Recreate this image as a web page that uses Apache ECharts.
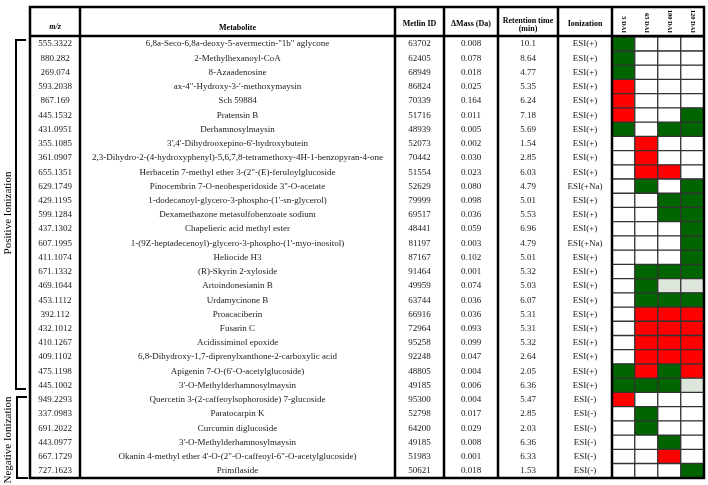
<!DOCTYPE html>
<html>
<head>
<meta charset="utf-8">
<script src="https://cdn.jsdelivr.net/npm/echarts@6/dist/echarts.min.js"></script>
<style>html,body{margin:0;padding:0;background:#fff}#c{width:708px;height:485px}</style>
</head>
<body>
<div id="c"></div>
<script>
const mz = ['555.3322','880.282','269.074','593.2038','867.169','445.1532','431.0951','355.1085','361.0907','655.1351','629.1749','429.1195','599.1284','437.1302','607.1995','411.1074','671.1332','469.1044','453.1112','392.112','432.1012','410.1267','409.1102','475.1198','445.1002','949.2293','337.0983','691.2022','443.0977','667.1729','727.1623'];
const metabolites = ['6,8a-Seco-6,8a-deoxy-5-avermectin-"1b" aglycone','2-Methylhexanoyl-CoA','8-Azaadenosine','ax-4"-Hydroxy-3-\'-methoxymaysin','Sch 59884','Pratensin B','Derhamnosylmaysin',"3',4'-Dihydrooxepino-6'-hydroxybutein",'2,3-Dihydro-2-(4-hydroxyphenyl)-5,6,7,8-tetramethoxy-4H-1-benzopyran-4-one','Herbacetin 7-methyl ether 3-(2"-(E)-feruloylglucoside','Pinocembrin 7-O-neohesperidoside 3"-O-acetate',"1-dodecanoyl-glycero-3-phospho-(1'-sn-glycerol)",'Dexamethazone metasulfobenzoate sodium','Chapelieric acid methyl ester',"1-(9Z-heptadecenoyl)-glycero-3-phospho-(1'-myo-inositol)",'Heliocide H3','(R)-Skyrin 2-xyloside','Artoindonesianin B','Urdamycinone B','Proacaciberin','Fusarin C','Acidissiminol epoxide','6,8-Dihydroxy-1,7-diprenylxanthone-2-carboxylic acid',"Apigenin 7-O-(6'-O-acetylglucoside)","3'-O-Methylderhamnosylmaysin",'Quercetin 3-(2-caffeoylsophoroside) 7-glucoside','Paratocarpin K','Curcumin diglucoside',"3'-O-Methylderhamnosylmaysin",'Okanin 4-methyl ether 4\'-O-(2"-O-caffeoyl-6"-O-acetylglucoside)','Primflaside'];
const metlinId = ['63702','62405','68949','86824','70339','51716','48939','52073','70442','51554','52629','79999','69517','48441','81197','87167','91464','49959','63744','66916','72964','95258','92248','48805','49185','95300','52798','64200','49185','51983','50621'];
const deltaMass = ['0.008','0.078','0.018','0.025','0.164','0.011','0.005','0.002','0.030','0.023','0.080','0.098','0.036','0.059','0.003','0.102','0.001','0.074','0.036','0.036','0.093','0.099','0.047','0.004','0.006','0.004','0.017','0.029','0.008','0.001','0.018'];
const retention = ['10.1','8.64','4.77','5.35','6.24','7.18','5.69','1.54','2.85','6.03','4.79','5.01','5.53','6.96','4.79','5.01','5.32','5.03','6.07','5.31','5.31','5.32','2.64','2.05','6.36','5.47','2.85','2.03','6.36','6.33','1.53'];
const ionization = ['ESI(+)','ESI(+)','ESI(+)','ESI(+)','ESI(+)','ESI(+)','ESI(+)','ESI(+)','ESI(+)','ESI(+)','ESI(+Na)','ESI(+)','ESI(+)','ESI(+)','ESI(+Na)','ESI(+)','ESI(+)','ESI(+)','ESI(+)','ESI(+)','ESI(+)','ESI(+)','ESI(+)','ESI(+)','ESI(+)','ESI(-)','ESI(-)','ESI(-)','ESI(-)','ESI(-)','ESI(-)'];
const daiLabels = ['5 DAI','65 DAI','100 DAI','120 DAI'];
// 0 = not detected (white), 1 = green, 2 = red, 3 = pale
const dai5   = [1,1,1,2,2,2,1,0,0,0,0,0,0,0,0,0,0,0,0,0,0,0,0,1,1,2,0,0,0,0,0];
const dai65  = [0,0,0,0,0,0,0,2,2,2,1,0,0,0,0,0,1,1,1,2,2,2,2,2,1,0,1,1,0,0,0];
const dai100 = [0,0,0,0,0,0,1,0,0,2,0,1,1,0,0,0,1,3,1,2,2,2,2,1,1,0,0,0,1,2,0];
const dai120 = [0,0,0,0,0,1,1,0,0,0,1,1,1,1,1,1,1,3,1,2,2,2,2,2,3,0,0,0,0,0,1];

const chart = echarts.init(document.getElementById('c'), null, {renderer:'canvas'});
const rows = mz.map((_, i) => String(i));
const cols = [dai5, dai65, dai100, dai120];
const heat = [];
cols.forEach((arr, x) => arr.forEach((v, y) => heat.push([x, y, v])));

const FONT = 'Liberation Serif, Times New Roman, serif';
const GL = 612, GR = 704, GT = 37, GB = 478, TL = 30, TT = 7;

function textAxis(data, center) {
  return {
    type: 'category', data: data, inverse: true, position: 'left', gridIndex: 0,
    axisLine: {show:false}, axisTick: {show:false}, splitLine: {show:false},
    axisLabel: {interval:0, margin: GL - center, align:'center', verticalAlign:'middle',
      fontFamily: FONT, fontSize: 9, color:'#1a1a1a'}
  };
}

const vlines = [80, 395, 444, 498, 558, GL].map(x => ({
  type:'line', shape:{x1:x, y1:TT, x2:x, y2:GB}, style:{stroke:'#000', lineWidth:2.5}, z:100
}));

function hdr(text, x, y, extra) {
  return Object.assign({type:'text', x:x, y:y, style:{text:text, textAlign:'center', textVerticalAlign:'middle',
    font:'bold 8px ' + FONT, fill:'#000'}, z:100}, extra || {});
}

const option = {
  animation: false,
  grid: {left: GL, right: 708 - GR, top: GT, bottom: 485 - GB, outerBoundsMode: 'none', containLabel: false},
  xAxis: {type:'category', data: daiLabels, position:'top', axisLine:{show:false}, axisTick:{show:false},
    splitLine:{show:false},
    axisLabel:{rotate:90, margin:4, interval:0, fontFamily:FONT, fontSize:6.5, fontWeight:'bold', color:'#000'}},
  yAxis: [
    {type:'category', data: rows, inverse:true, axisLine:{show:false}, axisTick:{show:false}, axisLabel:{show:false}},
    textAxis(mz, 55),
    textAxis(metabolites, 237.5),
    textAxis(metlinId, 419.5),
    textAxis(deltaMass, 471),
    textAxis(retention, 528),
    textAxis(ionization, 585)
  ],
  visualMap: {type:'piecewise', show:false, dimension:2, seriesIndex:0,
    pieces:[{value:0, color:'#ffffff'},{value:1, color:'#006400'},{value:2, color:'#ff0000'},{value:3, color:'#dce6da'}]},
  series: [{
    type:'heatmap', data: heat, xAxisIndex:0, yAxisIndex:0,
    itemStyle:{borderColor:'#333', borderWidth:1.3},
    emphasis:{disabled:true}
  }],
  graphic: [
    {type:'rect', shape:{x:TL, y:TT, width:GR-TL, height:GB-TT}, style:{fill:'none', stroke:'#000', lineWidth:2.5}, z:100},
    {type:'line', shape:{x1:TL, y1:36, x2:GR, y2:36}, style:{stroke:'#000', lineWidth:2.5}, z:100},
    ...vlines,
    hdr('m/z', 55, 27, {style:{text:'m/z', textAlign:'center', textVerticalAlign:'middle', font:'italic bold 8px ' + FONT, fill:'#000'}}),
    hdr('Metabolite', 237.5, 27.5),
    hdr('Metlin ID', 419.5, 24),
    hdr('\u0394Mass (Da)', 471, 24),
    hdr('Retention time', 528, 20.5),
    hdr('(min)', 528, 29),
    hdr('Ionization', 585, 24),
    // brackets
    {type:'polyline', shape:{points:[[26,40],[16,40],[16,389],[26,389]]}, style:{stroke:'#000', lineWidth:2, fill:'none'}},
    {type:'polyline', shape:{points:[[27,397],[17,397],[17,478],[28,478]]}, style:{stroke:'#000', lineWidth:2, fill:'none'}},
    {type:'text', x:8, y:213, rotation:Math.PI/2, style:{text:'Positive Ionization', textAlign:'center', textVerticalAlign:'middle', font:'11px ' + FONT, fill:'#000'}},
    {type:'text', x:8, y:440, rotation:Math.PI/2, style:{text:'Negative Ionization', textAlign:'center', textVerticalAlign:'middle', font:'11px ' + FONT, fill:'#000'}}
  ]
};
chart.setOption(option);
</script>
</body>
</html>
